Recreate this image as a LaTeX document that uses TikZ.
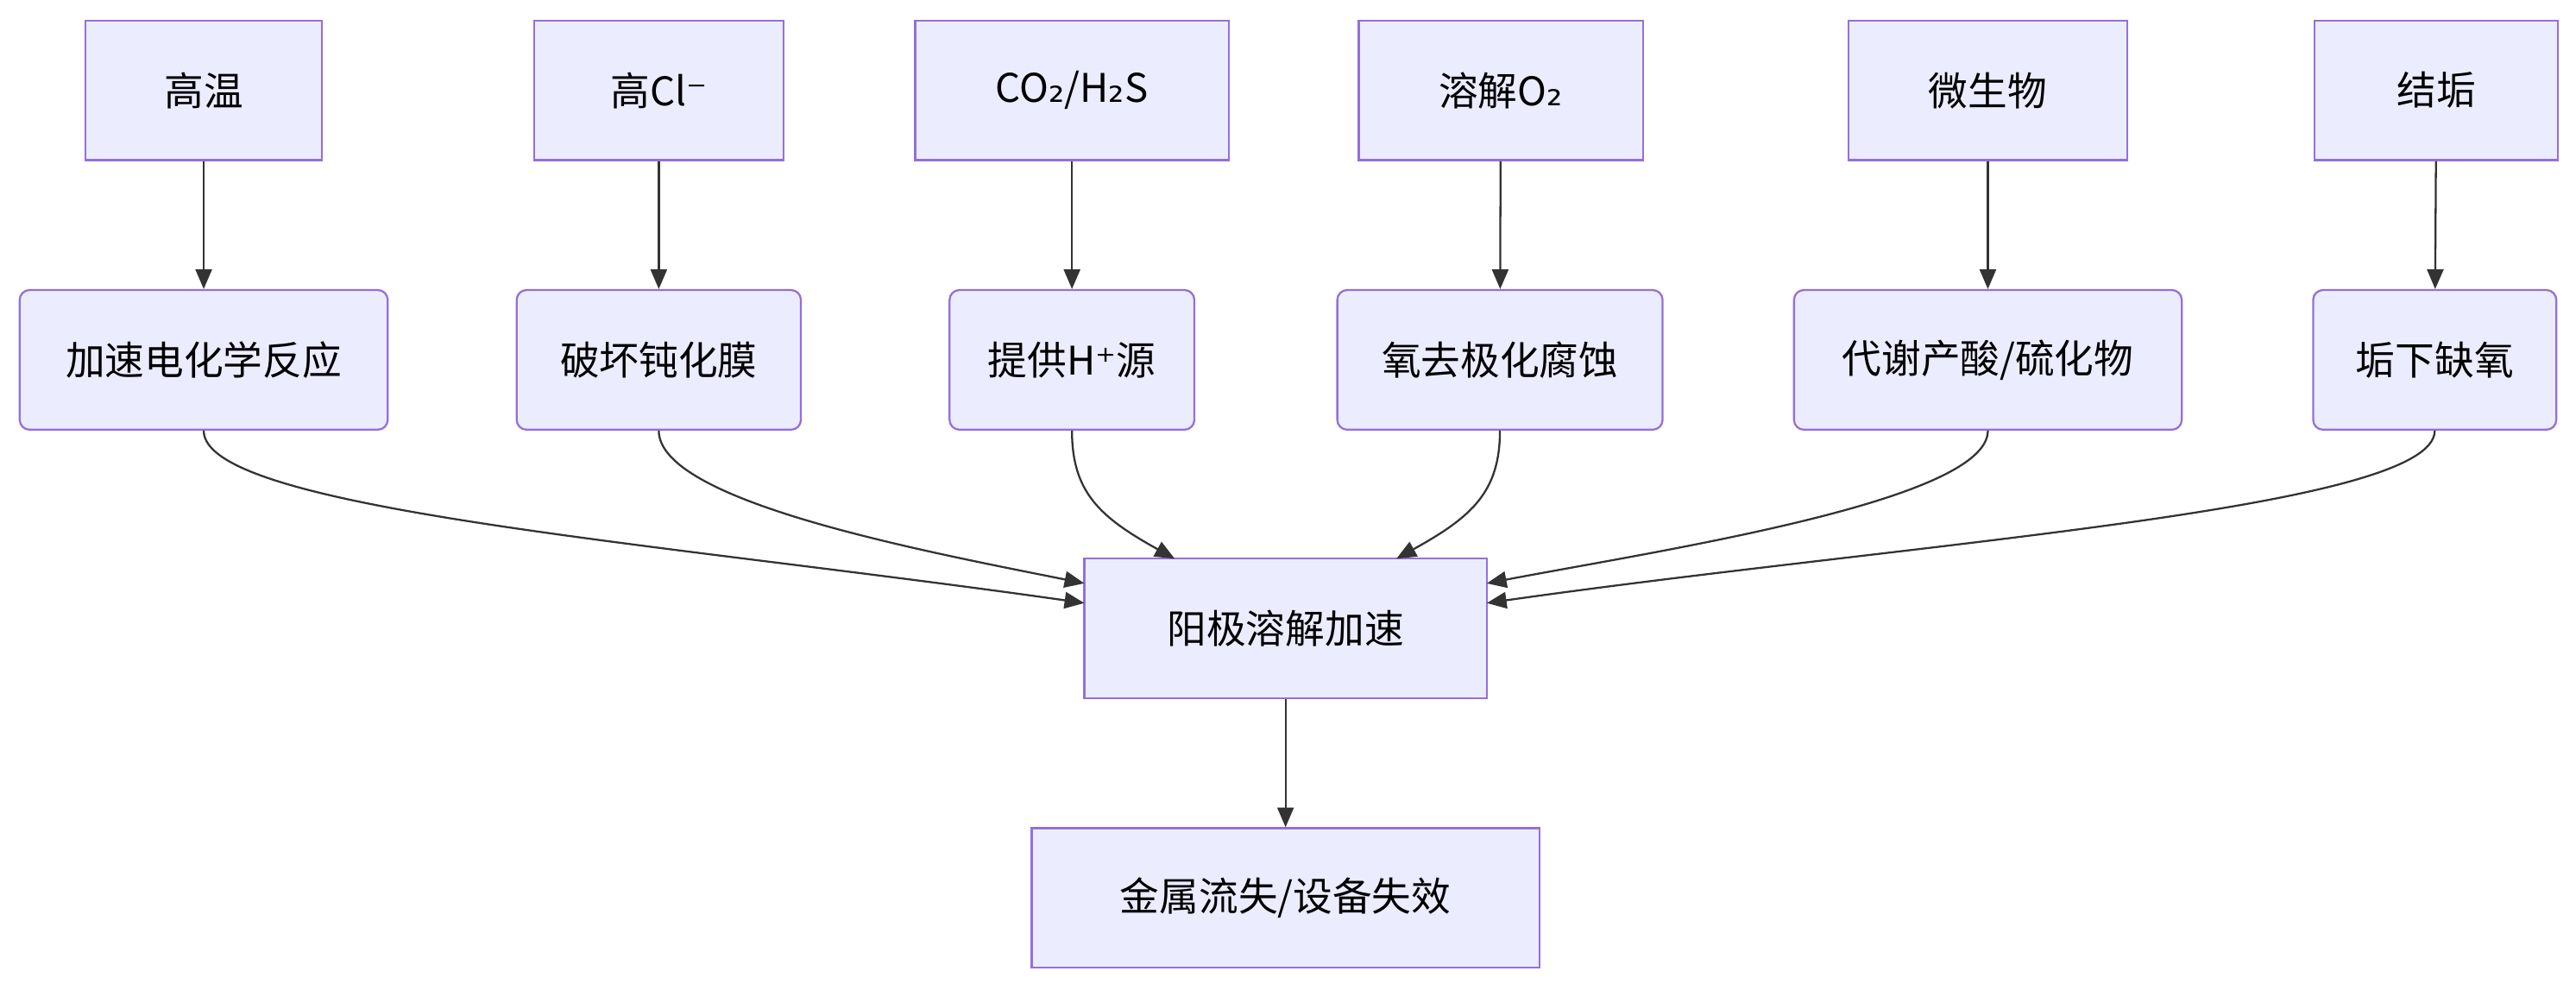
\documentclass[tikz,border=0pt]{standalone}
\usepackage{fontspec}
\setmainfont{Noto Sans CJK SC}
\newfontfamily\symfont{DejaVu Sans}
\newcommand{\sym}[1]{{\symfont #1}}
\usetikzlibrary{arrows.meta}
\begin{document}
\begin{tikzpicture}[
            x = 0.5pt, y = -0.5pt,
            > = {Triangle[length=6pt,width=5pt]}, % arrow head style
            semithick,
            box/.style = {draw = {rgb,255:red,147;green,112;blue,219}, fill = {rgb,255:red,236;green,236;blue,255},
                          line width = 0.6pt, inner sep = 0pt, font = \fontsize{12pt}{14pt}\selectfont},
            rbox/.style = {box, rounded corners = 3pt},
            link/.style = {->, draw = {rgb,255:red,51;green,51;blue,51}, line width = 0.6pt}
        ]
        \useasboundingbox (0,0) rectangle (1568,602);

        % causes
        \node[box, minimum width = 72pt, minimum height = 42.5pt] (t) at (124,55) {高温};
        \node[box, minimum width = 76pt, minimum height = 42.5pt] (cl) at (401,55) {高Cl\sym{⁻}};
        \node[box, minimum width = 95.5pt, minimum height = 42.5pt] (gas) at (652.5,55) {CO\sym{₂}/H\sym{₂}S};
        \node[box, minimum width = 86.5pt, minimum height = 42.5pt] (ox) at (913.5,55) {溶解O\sym{₂}};
        \node[box, minimum width = 85pt, minimum height = 42.5pt] (mic) at (1210,55) {微生物};
        \node[box, minimum width = 74pt, minimum height = 42.5pt] (sc) at (1483,55) {结垢};

        % mechanisms
        \node[rbox, minimum width = 112pt, minimum height = 42.5pt] (acc) at (124,219) {加速电化学反应};
        \node[rbox, minimum width = 86.5pt, minimum height = 42.5pt] (film) at (401,219) {破坏钝化膜};
        \node[rbox, minimum width = 74.5pt, minimum height = 42.5pt] (hp) at (652.5,219) {提供H\sym{⁺}源};
        \node[rbox, minimum width = 99pt, minimum height = 42.5pt] (dep) at (913,219) {氧去极化腐蚀};
        \node[rbox, minimum width = 118pt, minimum height = 42.5pt] (met) at (1210,219) {代谢产酸/硫化物};
        \node[rbox, minimum width = 74pt, minimum height = 42.5pt] (anox) at (1482,219) {垢下缺氧};

        \node[box, minimum width = 122.5pt, minimum height = 42.5pt] (ano) at (782.5,382.5) {阳极溶解加速};
        \node[box, minimum width = 154.5pt, minimum height = 42.5pt] (fail) at (782.5,546.5) {金属流失/设备失效};

        \foreach \a/\b in {t/acc, cl/film, gas/hp, ox/dep, mic/met, sc/anox, ano/fail}
            \draw[link] (\a) -- (\b);

        \draw[link] (acc.south) .. controls (124,310) and (400,330) .. (660,367);
        \draw[link] (film.south) .. controls (401,305) and (560,335) .. (660,355);
        \draw[link] (hp.south) .. controls (652.5,300) and (670,315) .. (715,340);
        \draw[link] (dep.south) .. controls (913,300) and (895,315) .. (850,340);
        \draw[link] (met.south) .. controls (1210,305) and (1010,335) .. (905,355);
        \draw[link] (anox.south) .. controls (1482,310) and (1165,330) .. (905,367);
  \end{tikzpicture}
\end{document}
